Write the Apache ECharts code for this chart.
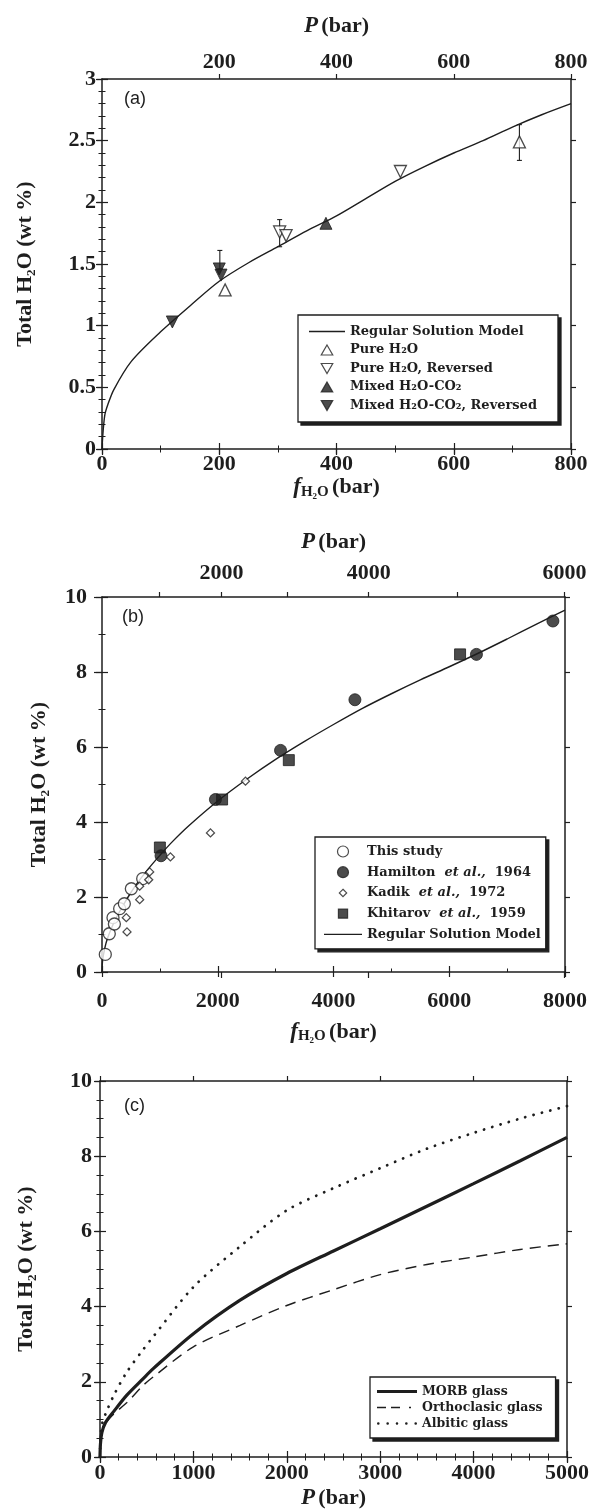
<!DOCTYPE html>
<html>
<head>
<meta charset="utf-8">
<script src="https://cdn.jsdelivr.net/npm/echarts@6/dist/echarts.min.js"></script>
<style>
  html, body { margin: 0; padding: 0; background: #fff; }
  #main { width: 594px; height: 1511px; }
</style>
</head>
<body>
<div id="main"></div>
<script>
// ---- panel (a): low pressure, f_H2O vs total H2O ----
const aModelF = [0, 2, 5, 10, 20, 50, 100, 150, 200, 250, 300, 350, 400, 450, 500, 550, 600, 650, 700, 750, 800];
const aModelW = [0, 0.15, 0.28, 0.36, 0.48, 0.71, 0.95, 1.16, 1.36, 1.51, 1.64, 1.77, 1.89, 2.03, 2.17, 2.29, 2.4, 2.5, 2.61, 2.71, 2.8];
const aPure = [[210, 1.29], [712, 2.49]];
const aPureRev = [[303, 1.76], [314, 1.73], [509, 2.25]];
const aMixed = [[382, 1.83]];
const aMixedRev = [[120, 1.03], [200, 1.46], [203, 1.41]];
const aErrBars = [[201, 1.46, 1.61], [303, 1.64, 1.86], [712, 2.34, 2.63]]; // f, low, high

// ---- panel (b): high pressure ----
const bThisStudy = [[57, 0.47], [126, 1.02], [190, 1.45], [214, 1.28], [305, 1.69], [386, 1.82], [507, 2.22], [703, 2.49]];
const bHamilton = [[1020, 3.1], [1960, 4.6], [3085, 5.91], [4370, 7.26], [6470, 8.47], [7791, 9.36]];
const bKadik = [[420, 1.45], [432, 1.07], [651, 1.93], [651, 2.29], [807, 2.46], [824, 2.67], [1182, 3.07], [1874, 3.71], [2479, 5.09]];
const bKhitarov = [[1000, 3.32], [2075, 4.6], [3228, 5.65], [6187, 8.47]];
const bModelF = [0, 10, 50, 100, 200, 300, 400, 500, 600, 800, 1000, 1200, 1500, 2000, 2500, 3000, 3500, 4000, 4500, 5000, 5500, 6000, 6500, 7000, 7500, 8000];
const bModelW = [0, 0.3, 0.65, 0.92, 1.3, 1.6, 1.87, 2.12, 2.35, 2.75, 3.11, 3.45, 3.9, 4.56, 5.14, 5.67, 6.15, 6.6, 7.03, 7.42, 7.79, 8.14, 8.5, 8.88, 9.27, 9.65];
// top axis of (b): pressure ticks placed at their fugacity
const bTopTickF = [991, 2064, 3201, 4607, 6142, 7990];
const bTopTickP = [1000, 2000, 3000, 4000, 5000, 6000];
const bTopLabelP = [2000, 4000, 6000];

// ---- panel (c): model curves vs P ----
const cP = [0, 5, 20, 60, 150, 285, 460, 570, 1000, 1500, 2000, 2500, 3000, 3500, 4000, 4500, 5000];
const cMorb = [0, 0.35, 0.65, 0.92, 1.22, 1.64, 2.08, 2.35, 3.28, 4.17, 4.88, 5.48, 6.07, 6.67, 7.27, 7.88, 8.5];
const cOrtho = [0, 0.35, 0.65, 0.9, 1.15, 1.44, 1.9, 2.13, 2.93, 3.5, 4.03, 4.45, 4.85, 5.12, 5.32, 5.52, 5.67];
const cAlbite = [0, 0.45, 0.85, 1.15, 1.65, 2.25, 2.85, 3.2, 4.52, 5.6, 6.56, 7.15, 7.68, 8.2, 8.62, 9.0, 9.33];

const zip = (xs, ys) => xs.map((x, i) => [x, ys[i]]);

const INK = '#1e1e1e';
const SERIF = '"Liberation Serif", "Times New Roman", serif';
const LEG_FONT = '"DejaVu Serif", serif';

const plain = v => String(v);
const tickFont = { fontFamily: SERIF, fontWeight: 'bold', fontSize: 22, color: INK, formatter: plain };
const nameRich = {
  b: { fontFamily: SERIF, fontWeight: 'bold', fontSize: 22, color: INK, lineHeight: 24, verticalAlign: 'middle' },
  i: { fontFamily: SERIF, fontWeight: 'bold', fontStyle: 'italic', fontSize: 23, color: INK, lineHeight: 24, verticalAlign: 'middle' },
  s: { fontFamily: SERIF, fontWeight: 'bold', fontSize: 15, color: INK, lineHeight: 13, verticalAlign: 'bottom' }
};
const pName = '{i|P} {b|(bar)}';
const fName = '{i|f}{s|H₂O} {b|(bar)}';
const yName = 'Total H₂O (wt %)';

// an axis with labels and outward major ticks (outer grid)
function outerAxis(grid, pos, min, max, interval, extra) {
  const ax = {
    type: 'value', gridIndex: grid, position: pos, min: min, max: max, interval: interval,
    axisLine: { show: true, onZero: false, lineStyle: { color: INK, width: 1.5 } },
    axisTick: { show: true, inside: false, length: 5, lineStyle: { color: INK, width: 1.2 } },
    axisLabel: { show: false },
    splitLine: { show: false }
  };
  return Object.assign(ax, extra || {});
}
// an axis with inward major + minor ticks (inner grid)
function innerAxis(grid, pos, min, max, interval, minorSplit, extra) {
  const ax = {
    type: 'value', gridIndex: grid, position: pos, min: min, max: max, interval: interval,
    axisLine: { show: false },
    axisTick: { show: true, inside: true, length: 6, lineStyle: { color: INK, width: 1.2 } },
    minorTick: { show: minorSplit > 1, splitNumber: minorSplit, length: 3.5, lineStyle: { color: INK, width: 1 } },
    axisLabel: { show: false },
    splitLine: { show: false }
  };
  return Object.assign(ax, extra || {});
}

const gA = { left: 102, top: 79, width: 469, height: 370 };
const gB = { left: 102, top: 597, width: 463, height: 375 };
const gC = { left: 100, top: 1081, width: 467, height: 376 };

const bTopMajorF = bTopTickF.filter((f, i) => bTopLabelP.indexOf(bTopTickP[i]) >= 0);

const xAxes = [
  // (a) 0..3
  outerAxis(0, 'bottom', 0, 800, 200, {
    axisLabel: Object.assign({ show: true, margin: 4 }, tickFont),
    name: fName, nameLocation: 'middle', nameGap: 22, nameTextStyle: { rich: nameRich }
  }),
  outerAxis(0, 'top', 0, 800, 200, {
    axisLabel: Object.assign({ show: true, margin: 6, showMinLabel: false }, tickFont),
    name: pName, nameLocation: 'middle', nameGap: 41, nameTextStyle: { rich: nameRich }
  }),
  innerAxis(1, 'bottom', 0, 800, 200, 2),
  innerAxis(1, 'top', 0, 800, 200, 2),
  // (b) 4..7
  outerAxis(2, 'bottom', 0, 8000, 2000, {
    axisLabel: Object.assign({ show: true, margin: 18 }, tickFont),
    name: fName, nameLocation: 'middle', nameGap: 48, nameTextStyle: { rich: nameRich }
  }),
  outerAxis(2, 'top', 0, 8000, 2000, {
    axisTick: { show: true, inside: false, length: 5, customValues: bTopTickF, lineStyle: { color: INK, width: 1.2 } },
    axisLabel: Object.assign({}, tickFont, {
      show: true, margin: 13, customValues: bTopMajorF,
      formatter: v => String(bTopTickP[bTopTickF.indexOf(v)])
    }),
    name: pName, nameLocation: 'middle', nameGap: 43, nameTextStyle: { rich: nameRich }
  }),
  innerAxis(3, 'bottom', 0, 8000, 2000, 2),
  innerAxis(3, 'top', 0, 8000, 2000, 1, {
    axisTick: { show: true, inside: true, length: 6, lineStyle: { color: INK, width: 1.2 }, customValues: bTopMajorF }
  }),
  // (c) 8..11
  outerAxis(4, 'bottom', 0, 5000, 1000, {
    axisLabel: Object.assign({ show: true, margin: 5 }, tickFont),
    name: pName, nameLocation: 'middle', nameGap: 29, nameTextStyle: { rich: nameRich }
  }),
  outerAxis(4, 'top', 0, 5000, 1000),
  innerAxis(5, 'bottom', 0, 5000, 1000, 5),
  innerAxis(5, 'top', 0, 5000, 1000, 5)
];

const yNameStyle = { fontFamily: SERIF, fontWeight: 'bold', fontSize: 22, color: INK };
const yAxes = [
  outerAxis(0, 'left', 0, 3, 0.5, {
    axisLabel: Object.assign({ show: true, margin: 6 }, tickFont),
    name: yName, nameLocation: 'middle', nameRotate: 90, nameGap: 66, nameTextStyle: yNameStyle
  }),
  outerAxis(0, 'right', 0, 3, 0.5),
  innerAxis(1, 'left', 0, 3, 0.5, 5),
  innerAxis(1, 'right', 0, 3, 0.5, 5),
  outerAxis(2, 'left', 0, 10, 2, {
    axisTick: { show: true, inside: false, length: 8, lineStyle: { color: INK, width: 1.2 } },
    axisLabel: Object.assign({ show: true, margin: 15 }, tickFont),
    name: yName, nameLocation: 'middle', nameRotate: 90, nameGap: 52, nameTextStyle: yNameStyle
  }),
  outerAxis(2, 'right', 0, 10, 2),
  innerAxis(3, 'left', 0, 10, 2, 2),
  innerAxis(3, 'right', 0, 10, 2, 2),
  outerAxis(4, 'left', 0, 10, 2, {
    axisLabel: Object.assign({ show: true, margin: 8 }, tickFont),
    name: yName, nameLocation: 'middle', nameRotate: 90, nameGap: 63, nameTextStyle: yNameStyle
  }),
  outerAxis(4, 'right', 0, 10, 2),
  innerAxis(5, 'left', 0, 10, 2, 4),
  innerAxis(5, 'right', 0, 10, 2, 4)
];

const openStyle = { color: '#fff', borderColor: INK, borderWidth: 1.3 };
const fillStyle = { color: INK, borderColor: INK, borderWidth: 1 };

function scatter(name, data, xi, symbol, size, style, rotate) {
  return {
    type: 'scatter', name: name, xAxisIndex: xi, yAxisIndex: xi, data: data,
    symbol: symbol, symbolSize: size, symbolRotate: rotate || 0,
    itemStyle: style, z: 5, silent: true
  };
}
function model(name, data, xi, lineStyle) {
  return {
    type: 'line', name: name, xAxisIndex: xi, yAxisIndex: xi, data: data,
    symbol: 'none', smooth: 0.3, lineStyle: Object.assign({ color: INK }, lineStyle),
    itemStyle: { color: INK }, z: 3, silent: true
  };
}

const series = [
  // (a)
  model('Regular Solution Model', zip(aModelF, aModelW), 0, { width: 1.4 }),
  {
    type: 'custom', name: 'err', xAxisIndex: 0, yAxisIndex: 0, data: aErrBars, z: 2, silent: true,
    encode: { x: 0, y: [1, 2] },
    renderItem: function (params, api) {
      const lo = api.coord([api.value(0), api.value(1)]);
      const hi = api.coord([api.value(0), api.value(2)]);
      const st = { stroke: INK, lineWidth: 1.1 };
      return {
        type: 'group', children: [
          { type: 'line', shape: { x1: lo[0], y1: lo[1], x2: hi[0], y2: hi[1] }, style: st },
          { type: 'line', shape: { x1: hi[0] - 2.5, y1: hi[1], x2: hi[0] + 2.5, y2: hi[1] }, style: st },
          { type: 'line', shape: { x1: lo[0] - 2.5, y1: lo[1], x2: lo[0] + 2.5, y2: lo[1] }, style: st }
        ]
      };
    }
  },
  scatter('Pure H₂O', aPure, 0, 'triangle', 12, openStyle),
  scatter('Pure H₂O, Reversed', aPureRev, 0, 'triangle', 12, openStyle, 180),
  scatter('Mixed H₂O-CO₂', aMixed, 0, 'triangle', 12, fillStyle),
  scatter('Mixed H₂O-CO₂, Reversed', aMixedRev, 0, 'triangle', 12, fillStyle, 180),
  // (b)
  model('Regular Solution Model (b)', zip(bModelF, bModelW), 4, { width: 1.4 }),
  scatter('This study', bThisStudy, 4, 'circle', 12, openStyle),
  scatter('Hamilton et al., 1964', bHamilton, 4, 'circle', 12, fillStyle),
  scatter('Kadik et al., 1972', bKadik, 4, 'diamond', 8, openStyle),
  scatter('Khitarov et al., 1959', bKhitarov, 4, 'rect', 11, fillStyle),
  // (c)
  model('MORB glass', zip(cP, cMorb), 8, { width: 3.2 }),
  model('Orthoclasic glass', zip(cP, cOrtho), 8, { width: 1.4, type: [11, 7] }),
  model('Albitic glass', zip(cP, cAlbite), 8, { width: 2.8, type: [0.1, 8.5], cap: 'round' })
];

// legend icons (kept in aspect, centred in the item box)
const ICON = {
  tri: 'path://M5,0L10,8.7L0,8.7Z',
  triDown: 'path://M0,0L10,0L5,8.7Z',
  circle: 'path://M0,6A6,6,0,1,1,12,6A6,6,0,1,1,0,6Z',
  diamond: 'path://M6,2L10,6L6,10L2,6ZM0,0M12,12',
  square: 'path://M1,1L11,1L11,11L1,11ZM0,0M12,12',
  line36: 'path://M0,0L36,0L36,1.3L0,1.3Z',
  line38: 'path://M0,0L38,0L38,1.3L0,1.3Z',
  thick40: 'path://M0,0L40,0L40,3.2L0,3.2Z',
  dash40: 'path://M0,0L9,0L9,1.3L0,1.3ZM14,0L23,0L23,1.3L14,1.3ZM32,0L34,0L34,1.3L32,1.3ZM0,0M40,1.3',
  dots40: 'path://M0,0.6A1.3,1.3,0,1,1,2.6,0.6A1.3,1.3,0,1,1,0,0.6Z' +
    'M9.35,0.6A1.3,1.3,0,1,1,11.95,0.6A1.3,1.3,0,1,1,9.35,0.6Z' +
    'M18.7,0.6A1.3,1.3,0,1,1,21.3,0.6A1.3,1.3,0,1,1,18.7,0.6Z' +
    'M28.05,0.6A1.3,1.3,0,1,1,30.65,0.6A1.3,1.3,0,1,1,28.05,0.6Z' +
    'M37.4,0.6A1.3,1.3,0,1,1,40,0.6A1.3,1.3,0,1,1,37.4,0.6Z'
};
const noBorder = { borderWidth: 0 };

const legendText = { fontFamily: LEG_FONT, fontWeight: 'bold', fontSize: 13, lineHeight: 13, color: INK };
const legendDefs = [
  {
    left: 298, top: 315, padding: [10, 21, 10, 11], itemWidth: 36, itemHeight: 10, itemGap: 5.5,
    textStyle: legendText,
    data: [
      { name: 'Regular Solution Model', icon: ICON.line36, itemStyle: noBorder },
      { name: 'Pure H₂O', icon: ICON.tri },
      { name: 'Pure H₂O, Reversed', icon: ICON.triDown },
      { name: 'Mixed H₂O-CO₂', icon: ICON.tri },
      { name: 'Mixed H₂O-CO₂, Reversed', icon: ICON.triDown }
    ]
  },
  {
    left: 315, top: 837, padding: [8, 5, 8, 9], itemWidth: 38, itemHeight: 11, itemGap: 7.7,
    textStyle: Object.assign({}, legendText, {
      rich: {
        n: legendText,
        it: Object.assign({}, legendText, { fontStyle: 'italic' })
      }
    }),
    formatter: function (name) {
      if (name.indexOf(' (b)') > 0) return '{n|' + name.replace(' (b)', '') + '}';
      const m = name.match(/^(\S+) et al\., (\d+)$/);
      if (m) return '{n|' + m[1] + '}  {it|et al.,}  {n|' + m[2] + '}';
      return '{n|' + name + '}';
    },
    data: [
      { name: 'This study', icon: ICON.circle },
      { name: 'Hamilton et al., 1964', icon: ICON.circle },
      { name: 'Kadik et al., 1972', icon: ICON.diamond },
      { name: 'Khitarov et al., 1959', icon: ICON.square },
      { name: 'Regular Solution Model (b)', icon: ICON.line38, itemStyle: noBorder }
    ]
  },
  {
    left: 370, top: 1377, padding: [8, 13, 8, 7], itemWidth: 40, itemHeight: 10, itemGap: 3,
    textStyle: Object.assign({}, legendText, { fontSize: 12.5, lineHeight: 12 }),
    data: [
      { name: 'MORB glass', icon: ICON.thick40, itemStyle: noBorder },
      { name: 'Orthoclasic glass', icon: ICON.dash40, itemStyle: noBorder },
      { name: 'Albitic glass', icon: ICON.dots40, itemStyle: noBorder }
    ]
  }
];
// each legend box is drawn twice: a dark copy shifted by 3px as the drop shadow, then the box itself
const legends = [];
legendDefs.forEach(function (d) {
  const base = Object.assign({
    orient: 'vertical', selectedMode: false, borderColor: INK, borderWidth: 1.3, borderRadius: 0,
    itemStyle: { borderWidth: 1.2 }
  }, d);
  legends.push(Object.assign({}, base, { left: d.left + 3, top: d.top + 3, backgroundColor: INK, z: 10 }));
  legends.push(Object.assign({}, base, { backgroundColor: '#fff', z: 11 }));
});

const panelLabel = (text, left, top) => ({
  text: text, left: left, top: top, padding: 0,
  textStyle: { fontFamily: '"Liberation Sans", Arial, sans-serif', fontSize: 18, fontWeight: 'normal', color: INK }
});

const chart = echarts.init(document.getElementById('main'));
chart.setOption({
  backgroundColor: '#fff',
  animation: false,
  title: [panelLabel('(a)', 124, 90), panelLabel('(b)', 122, 608), panelLabel('(c)', 124, 1097)],
  grid: [gA, gA, gB, gB, gC, gC],
  xAxis: xAxes,
  yAxis: yAxes,
  legend: legends,
  series: series
});
</script>
</body>
</html>
